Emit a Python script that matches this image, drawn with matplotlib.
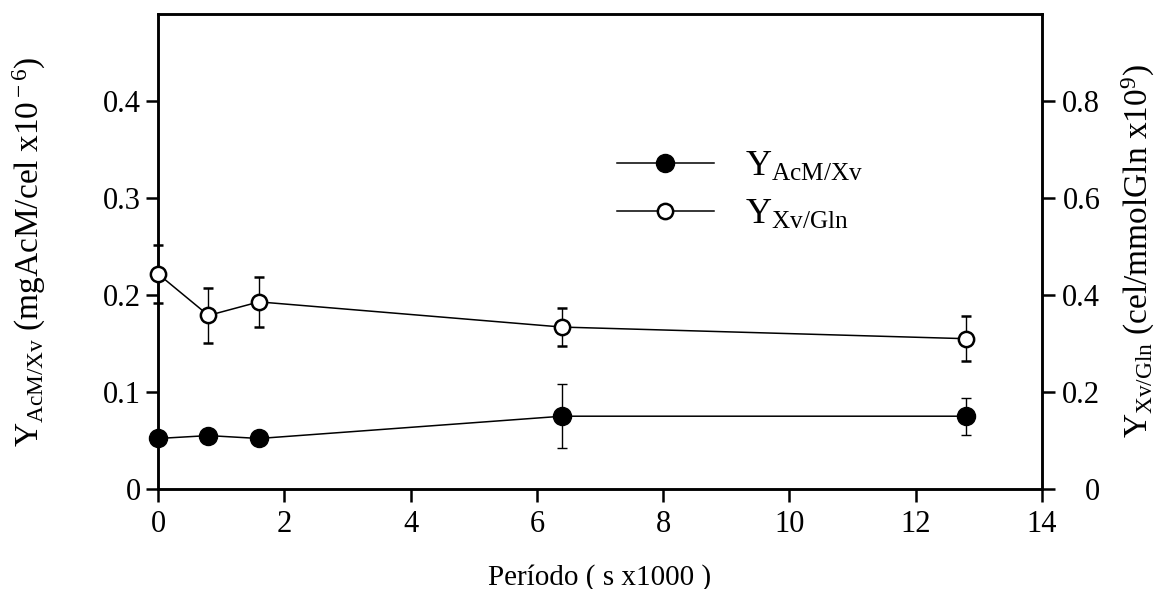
import matplotlib
matplotlib.use("Agg")
import matplotlib.pyplot as plt
from matplotlib.lines import Line2D

plt.rcParams['font.family'] = ['Liberation Serif', 'DejaVu Serif']
plt.rcParams['mathtext.fontset'] = 'custom'
plt.rcParams['mathtext.rm'] = 'Liberation Serif'
plt.rcParams['mathtext.it'] = 'Liberation Serif'

periodo = [0, 0.8, 1.6, 6.4, 12.8]
y_acm = [0.052, 0.055, 0.052, 0.075, 0.075]
y_acm_err = [0.0, 0.0, 0.0, 0.033, 0.019]
y_gln = [0.444, 0.358, 0.386, 0.334, 0.310]
y_gln_err = [0.060, 0.056, 0.052, 0.040, 0.046]

x_ticks = [0, 2, 4, 6, 8, 10, 12, 14]
left_ticks = [0, 0.1, 0.2, 0.3, 0.4]
left_labels = ['0', '0.1', '0.2', '0.3', '0.4']
right_ticks = [0, 0.2, 0.4, 0.6, 0.8]
right_labels = ['0', '0.2', '0.4', '0.6', '0.8']

fig = plt.figure(figsize=(11.58, 5.89), dpi=100)
ax = fig.add_axes([0.1364, 0.170, 0.7634, 0.806])
ax2 = ax.twinx()

ax.set_xlim(0, 14)
ax.set_ylim(0, 0.49)
ax2.set_ylim(0, 0.98)

ax.errorbar(periodo, y_acm, yerr=y_acm_err, fmt='o', color='black', ms=13,
            mfc='black', mec='black', ls='-', lw=1.1, capsize=3.8, elinewidth=1,
            capthick=1, clip_on=False, zorder=3)
ax2.errorbar(periodo, y_gln, yerr=y_gln_err, fmt='o', color='black', ms=11,
             mfc='white', mec='black', mew=1.8, ls='-', lw=1.1, capsize=3.8,
             elinewidth=1, capthick=1, clip_on=False, zorder=3)

for a in (ax, ax2):
    for s in a.spines.values():
        s.set_linewidth(1.8)
    a.tick_params(direction='out', length=9, width=1.8, labelsize=22)
ax.tick_params(axis='x', pad=6)
ax.tick_params(axis='y', pad=3)
ax2.tick_params(axis='y', pad=33)

ax.set_xticks(x_ticks)
ax.set_yticks(left_ticks)
ax.set_yticklabels(left_labels)
ax2.set_yticks(right_ticks)
ax2.set_yticklabels(right_labels, ha='right')

ax.set_xlabel('Período ( s x1000 )', fontsize=21, labelpad=18)
ax.set_ylabel(r'Y$_{\rm AcM/Xv}$ (mgAcM/cel x10$^{\rm -6}$)', fontsize=24, labelpad=40)
ax2.set_ylabel(r'Y$_{\rm Xv/Gln}$ (cel/mmolGln x10$^{\rm 9}$)', fontsize=24,
               rotation=90, labelpad=14)

handles = [
    Line2D([], [], color='black', lw=1.1, marker='o', ms=13, mfc='black', mec='black'),
    Line2D([], [], color='black', lw=1.1, marker='o', ms=11, mfc='white', mec='black', mew=1.8),
]
labels = [r'Y$_{\rm AcM/Xv}$', r'Y$_{\rm Xv/Gln}$']
ax2.legend(handles, labels, loc='center left', bbox_to_anchor=(0.482, 0.627),
           frameon=False, fontsize=26, handlelength=2.7, handletextpad=0.85,
           labelspacing=0.4)

fig.savefig('out.png', dpi=100)
